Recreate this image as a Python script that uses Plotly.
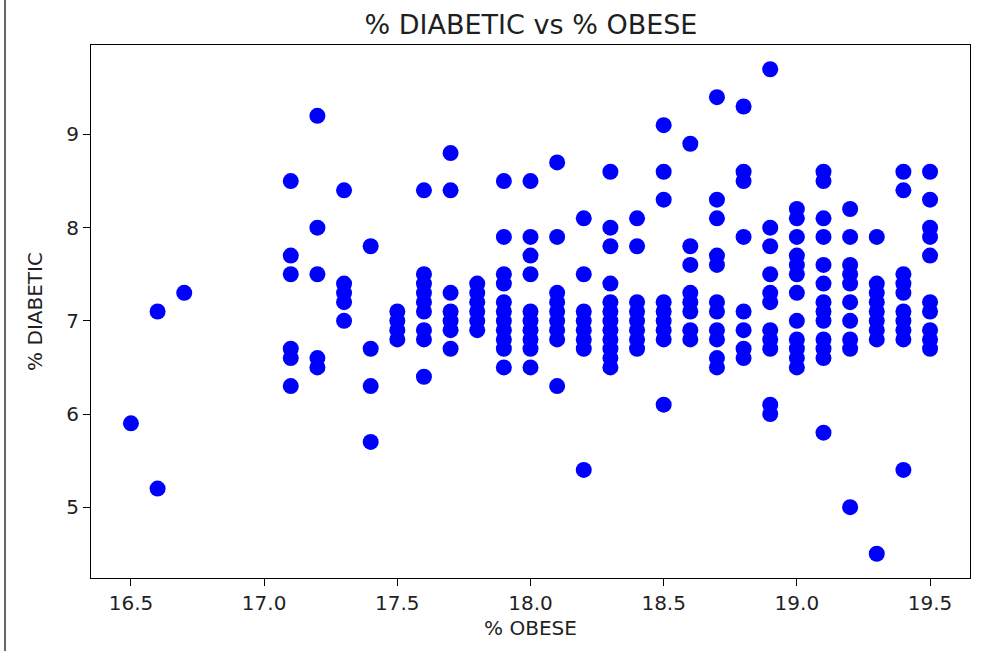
import plotly.graph_objects as go

# Obesity rate (%) columns and the diabetes rates (%) observed at each of them
obese_levels = [
    16.5, 16.6, 16.7, 17.1, 17.2, 17.3, 17.4, 17.5, 17.6, 17.7,
    17.8, 17.9, 18.0, 18.1, 18.2, 18.3, 18.4, 18.5, 18.6, 18.7,
    18.8, 18.9, 19.0, 19.1, 19.2, 19.3, 19.4, 19.5,
]
diabetic_at_level = [
    [5.9],
    [7.1, 5.2],
    [7.3],
    [8.5, 7.7, 7.5, 6.7, 6.6, 6.3],
    [9.2, 8.0, 7.5, 6.6, 6.5],
    [8.4, 7.4, 7.3, 7.2, 7.0],
    [7.8, 6.7, 6.3, 5.7],
    [7.1, 7.0, 6.9, 6.8],
    [8.4, 7.5, 7.4, 7.3, 7.2, 7.1, 6.9, 6.8, 6.4],
    [8.8, 8.4, 7.3, 7.1, 7.0, 6.9, 6.7],
    [7.4, 7.3, 7.2, 7.1, 7.0, 6.9],
    [8.5, 7.9, 7.5, 7.4, 7.2, 7.1, 7.0, 6.9, 6.8, 6.7, 6.5],
    [8.5, 7.9, 7.7, 7.5, 7.1, 7.0, 6.9, 6.8, 6.7, 6.5],
    [8.7, 7.9, 7.3, 7.2, 7.1, 7.0, 6.9, 6.8, 6.3],
    [8.1, 7.5, 7.1, 7.0, 6.9, 6.8, 6.7, 5.4],
    [8.6, 8.0, 7.8, 7.4, 7.2, 7.1, 7.0, 6.9, 6.8, 6.7, 6.6, 6.5],
    [8.1, 7.8, 7.2, 7.1, 7.0, 6.9, 6.8, 6.7],
    [9.1, 8.6, 8.3, 7.2, 7.1, 7.0, 6.9, 6.8, 6.1],
    [8.9, 7.8, 7.6, 7.3, 7.2, 7.1, 6.9, 6.8],
    [9.4, 8.3, 8.1, 7.7, 7.6, 7.2, 7.1, 6.9, 6.8, 6.6, 6.5],
    [9.3, 8.6, 8.5, 7.9, 7.1, 6.9, 6.7, 6.6],
    [9.7, 8.0, 7.8, 7.5, 7.3, 7.2, 6.9, 6.8, 6.7, 6.1, 6.0],
    [8.2, 8.1, 7.9, 7.7, 7.6, 7.5, 7.3, 7.0, 6.8, 6.7, 6.6, 6.5],
    [8.6, 8.5, 8.1, 7.9, 7.6, 7.4, 7.2, 7.1, 7.0, 6.8, 6.7, 6.6, 5.8],
    [8.2, 7.9, 7.6, 7.5, 7.4, 7.2, 7.0, 6.8, 6.7, 5.0],
    [7.9, 7.4, 7.3, 7.2, 7.1, 7.0, 6.9, 6.8, 4.5],
    [8.6, 8.4, 7.5, 7.4, 7.3, 7.1, 7.0, 6.9, 6.8, 5.4],
    [8.6, 8.3, 8.0, 7.9, 7.7, 7.2, 7.1, 6.9, 6.8, 6.7],
]

x_ticks = [16.5, 17.0, 17.5, 18.0, 18.5, 19.0, 19.5]
y_ticks = [5, 6, 7, 8, 9]

# Flatten into point pairs for the scatter trace
pct_obese = []
pct_diabetic = []
for level, values in zip(obese_levels, diabetic_at_level):
    for v in values:
        pct_obese.append(level)
        pct_diabetic.append(v)

TEXT = "#1f1f1f"
FONT = "DejaVu Sans"
M_L, M_R, M_T, M_B = 91, 18, 45, 73
W, H = 988, 651
plot_w = W - M_L - M_R
plot_h = H - M_T - M_B

fig = go.Figure(
    go.Scatter(
        x=pct_obese,
        y=pct_diabetic,
        mode="markers",
        marker=dict(color="#0000ff", size=16, line=dict(width=0)),
        hoverinfo="x+y",
    )
)

axis_common = dict(
    showgrid=False,
    zeroline=False,
    showline=True,
    mirror=True,
    linecolor="#000000",
    linewidth=1.2,
    ticks="outside",
    ticklen=7,
    tickwidth=1.2,
    tickcolor="#000000",
    tickfont=dict(family=FONT, size=20, color=TEXT),
)

fig.update_layout(
    width=W,
    height=H,
    margin=dict(l=M_L, r=M_R, t=M_T, b=M_B),
    paper_bgcolor="#ffffff",
    plot_bgcolor="#ffffff",
    showlegend=False,
    font=dict(family=FONT, color=TEXT),
    title=dict(
        text="% DIABETIC vs % OBESE",
        x=531 / W,
        xanchor="center",
        y=1 - 25 / H,
        yanchor="middle",
        yref="container",
        font=dict(family=FONT, size=27, color=TEXT),
    ),
    xaxis=dict(
        **axis_common,
        range=[16.35, 19.65],
        tickvals=x_ticks,
        ticktext=[f"{v:.1f}" for v in x_ticks],
        title=dict(text="% OBESE", font=dict(family=FONT, size=20, color=TEXT), standoff=6),
    ),
    yaxis=dict(
        **axis_common,
        range=[4.24, 9.96],
        tickvals=y_ticks,
        ticktext=[str(v) for v in y_ticks],
        title=dict(text="% DIABETIC", font=dict(family=FONT, size=20, color=TEXT), standoff=18),
    ),
    shapes=[
        # thin frame rule along the left edge of the page
        dict(
            type="line",
            xref="paper",
            yref="paper",
            x0=(5 - M_L) / plot_w,
            x1=(5 - M_L) / plot_w,
            y0=-M_B / plot_h,
            y1=(H - M_B) / plot_h,
            line=dict(color="#333333", width=1.5),
        )
    ],
)

fig.write_html("out.html")
